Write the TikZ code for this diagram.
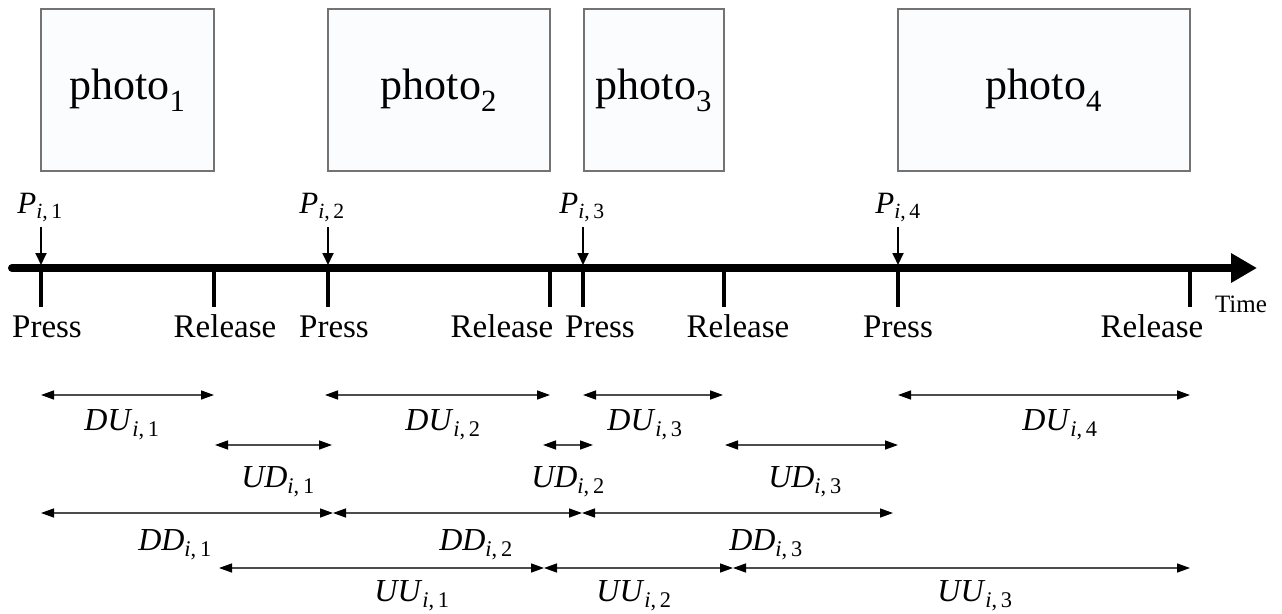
\documentclass[tikz,border=0pt]{standalone}
\usepackage{fontspec}
\setmainfont{Liberation Serif}
\usetikzlibrary{arrows.meta}
\newcommand\ivl[2]{\textit{#1}\textsubscript{\textit{i},\,#2}}
\begin{document}
\begin{tikzpicture}[x=1pt,y=-1pt,
  photobox/.style={draw=black!55, line width=1.5pt, fill={rgb,255:red,251;green,252;blue,254}, inner sep=0pt, font=\fontsize{44}{50}\selectfont},
  evlabel/.style={anchor=base, inner sep=0pt, font=\fontsize{33}{38}\selectfont},
  ivlabel/.style={anchor=base, inner sep=0pt, font=\fontsize{32}{36}\selectfont},
  plabel/.style={anchor=base, inner sep=0pt, font=\fontsize{31}{36}\selectfont},
  ticksty/.style={line width=4pt},
  presarrow/.style={line width=1.8pt, -{Triangle[length=12pt,width=11pt]}},
  spanarrow/.style={draw=black!70, line width=1.4pt, {Triangle[length=13pt,width=9pt,color=black]}-{Triangle[length=13pt,width=9pt,color=black]}},
]
\fill[white] (0,0) rectangle (1282,613);
\useasboundingbox (0,0) rectangle (1282,613);

% photo boxes
\node[photobox, minimum width=173pt, minimum height=162pt] (ph1) at (127.5,90) {photo\textsubscript{1}};
\node[photobox, minimum width=222pt, minimum height=162pt] (ph2) at (439,90) {photo\textsubscript{2}};
\node[photobox, minimum width=140pt, minimum height=162pt] (ph3) at (654,90) {photo\textsubscript{3}};
\node[photobox, minimum width=292pt, minimum height=162pt] (ph4) at (1044,90) {photo\textsubscript{4}};

% timeline
\coordinate (tl0) at (12,268);
\coordinate (tl1) at (1257,268);
\draw[line width=8pt, line cap=round, -{Triangle[length=26pt,width=28pt]}] (tl0) -- (tl1);

% ticks: press
\foreach \i/\x in {1/41,2/328,3/583,4/898}{
  \coordinate (p\i) at (\x,268);
  \coordinate (pt\i) at (\x,307);
  \coordinate (pa\i) at (\x,227);
  \coordinate (pb\i) at (\x,265);
  \draw[ticksty] (p\i) -- (pt\i);
  \draw[presarrow] (pa\i) -- (pb\i);
}
% ticks: release
\foreach \i/\x in {1/214,2/550,3/724,4/1190}{
  \coordinate (r\i) at (\x,268);
  \coordinate (rt\i) at (\x,307);
  \draw[ticksty] (r\i) -- (rt\i);
}

% P labels
\node[plabel] (P1) at (40,213) {\ivl{P}{1}};
\node[plabel] (P2) at (322,213) {\ivl{P}{2}};
\node[plabel] (P3) at (582,213) {\ivl{P}{3}};
\node[plabel] (P4) at (898,213) {\ivl{P}{4}};

% event labels
\node[evlabel] (pr1) at (47,337) {Press};
\node[evlabel] (re1) at (225,337) {Release};
\node[evlabel] (pr2) at (334,337) {Press};
\node[evlabel] (re2) at (502,337) {Release};
\node[evlabel] (pr3) at (600,337) {Press};
\node[evlabel] (re3) at (738,337) {Release};
\node[evlabel] (pr4) at (898,337) {Press};
\node[evlabel] (re4) at (1152,337) {Release};
\node[anchor=base, inner sep=0pt, font=\fontsize{25}{30}\selectfont] (time) at (1241,312) {Time};

% DU row
\coordinate (du1a) at (41,395);  \coordinate (du1b) at (214,395);
\coordinate (du2a) at (325,395); \coordinate (du2b) at (550,395);
\coordinate (du3a) at (583,395); \coordinate (du3b) at (723,395);
\coordinate (du4a) at (898,395); \coordinate (du4b) at (1190,395);
\draw[spanarrow] (du1a) -- (du1b);
\draw[spanarrow] (du2a) -- (du2b);
\draw[spanarrow] (du3a) -- (du3b);
\draw[spanarrow] (du4a) -- (du4b);
\node[ivlabel] (DU1) at (122,430) {\ivl{DU}{1}};
\node[ivlabel] (DU2) at (443,430) {\ivl{DU}{2}};
\node[ivlabel] (DU3) at (645,430) {\ivl{DU}{3}};
\node[ivlabel] (DU4) at (1060,430) {\ivl{DU}{4}};

% UD row
\coordinate (ud1a) at (215,445); \coordinate (ud1b) at (332,445);
\coordinate (ud2a) at (543,445); \coordinate (ud2b) at (593,445);
\coordinate (ud3a) at (725,445); \coordinate (ud3b) at (898,445);
\draw[spanarrow] (ud1a) -- (ud1b);
\draw[spanarrow] (ud2a) -- (ud2b);
\draw[spanarrow] (ud3a) -- (ud3b);
\node[ivlabel] (UD1) at (278,487) {\ivl{UD}{1}};
\node[ivlabel] (UD2) at (568,487) {\ivl{UD}{2}};
\node[ivlabel] (UD3) at (805,487) {\ivl{UD}{3}};

% DD row
\coordinate (dd1a) at (41,513);  \coordinate (dd1b) at (333,513);
\coordinate (dd2a) at (333,513); \coordinate (dd2b) at (582,513);
\coordinate (dd3a) at (582,513); \coordinate (dd3b) at (893,513);
\draw[spanarrow] (dd1a) -- (dd1b);
\draw[spanarrow] (dd2a) -- (dd2b);
\draw[spanarrow] (dd3a) -- (dd3b);
\node[ivlabel] (DD1) at (175,550) {\ivl{DD}{1}};
\node[ivlabel] (DD2) at (476,550) {\ivl{DD}{2}};
\node[ivlabel] (DD3) at (766,550) {\ivl{DD}{3}};

% UU row
\coordinate (uu1a) at (219,568); \coordinate (uu1b) at (544,568);
\coordinate (uu2a) at (544,568); \coordinate (uu2b) at (733,568);
\coordinate (uu3a) at (733,568); \coordinate (uu3b) at (1190,568);
\draw[spanarrow] (uu1a) -- (uu1b);
\draw[spanarrow] (uu2a) -- (uu2b);
\draw[spanarrow] (uu3a) -- (uu3b);
\node[ivlabel] (UU1) at (412,601) {\ivl{UU}{1}};
\node[ivlabel] (UU2) at (634,601) {\ivl{UU}{2}};
\node[ivlabel] (UU3) at (975,601) {\ivl{UU}{3}};
\end{tikzpicture}
\end{document}
